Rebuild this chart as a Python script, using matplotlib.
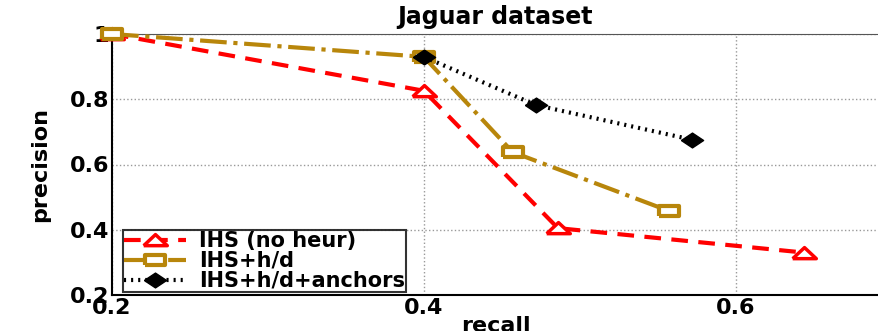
import matplotlib.pyplot as plt

plt.rcParams['font.family'] = ['DejaVu Sans']
plt.rcParams['font.weight'] = 'bold'

# recall / precision values
recall_ihs = [0.2, 0.4, 0.486, 0.644]
prec_ihs = [1.0, 0.826, 0.405, 0.33]

recall_hd = [0.2, 0.4, 0.457, 0.557]
prec_hd = [1.0, 0.93, 0.638, 0.458]

recall_anch = [0.4, 0.472, 0.572]
prec_anch = [0.93, 0.782, 0.676]

labels = ['IHS (no heur)', 'IHS+h/d', 'IHS+h/d+anchors']
gold = '#b8860b'

# wide markers like the stretched original
tri = [(-1.6, -0.7), (1.6, -0.7), (0, 0.8), (-1.6, -0.7)]
sq = [(-1.3, -0.7), (1.3, -0.7), (1.3, 0.7), (-1.3, 0.7), (-1.3, -0.7)]
dia = [(-1.5, 0), (0, 1.0), (1.5, 0), (0, -1.0), (-1.5, 0)]

fig = plt.figure(figsize=(8.79, 3.31), dpi=100)
ax = fig.add_axes([112 / 879, 1 - 295 / 331, 1 - 112 / 879, 261 / 331])

ax.plot(recall_ihs, prec_ihs, '--', color='red', lw=3, marker=tri, ms=17,
        mfc='white', mec='red', mew=2.5, label=labels[0], dashes=(4, 2.5),
        clip_on=False, zorder=3)
ax.plot(recall_hd, prec_hd, '-.', color=gold, lw=3, marker=sq, ms=14,
        mfc='white', mec=gold, mew=3, label=labels[1], clip_on=False, zorder=4)
ax.plot(recall_anch, prec_anch, ':', color='black', lw=3, marker=dia, ms=16,
        mfc='black', mec='black', label=labels[2], dashes=(0.5, 1.2),
        clip_on=False, zorder=5)

ax.set_xlim(0.2, 0.692)
ax.set_ylim(0.2, 1.0)
ax.set_xticks([0.2, 0.4, 0.6])
ax.set_yticks([0.2, 0.4, 0.6, 0.8, 1.0])
ax.set_yticklabels(['0.2', '0.4', '0.6', '0.8', '1'])
ax.tick_params(labelsize=16, length=0, pad=2)
for t in ax.get_xticklabels() + ax.get_yticklabels():
    t.set_fontweight('bold')

ax.grid(True, linestyle=':', color='#999999', lw=1)
ax.spines['right'].set_visible(False)
ax.spines['top'].set_color('#555555')
ax.spines['left'].set_linewidth(1.5)
ax.spines['bottom'].set_linewidth(1.5)

ax.set_title('Jaguar dataset', fontsize=17, fontweight='bold', pad=7)
ax.set_xlabel('recall', fontsize=16, fontweight='bold', labelpad=-1)
ax.set_ylabel('precision', fontsize=16, fontweight='bold', labelpad=14)

leg = ax.legend(loc='lower left', fontsize=15, frameon=True, fancybox=False,
                edgecolor='black', borderpad=0.05, handlelength=3.0,
                labelspacing=0.0, borderaxespad=0.15, handletextpad=0.6,
                bbox_to_anchor=(0.01, 0.0))
leg.get_frame().set_linewidth(1.5)
for t in leg.get_texts():
    t.set_fontweight('bold')

fig.savefig('out.png', dpi=100)
